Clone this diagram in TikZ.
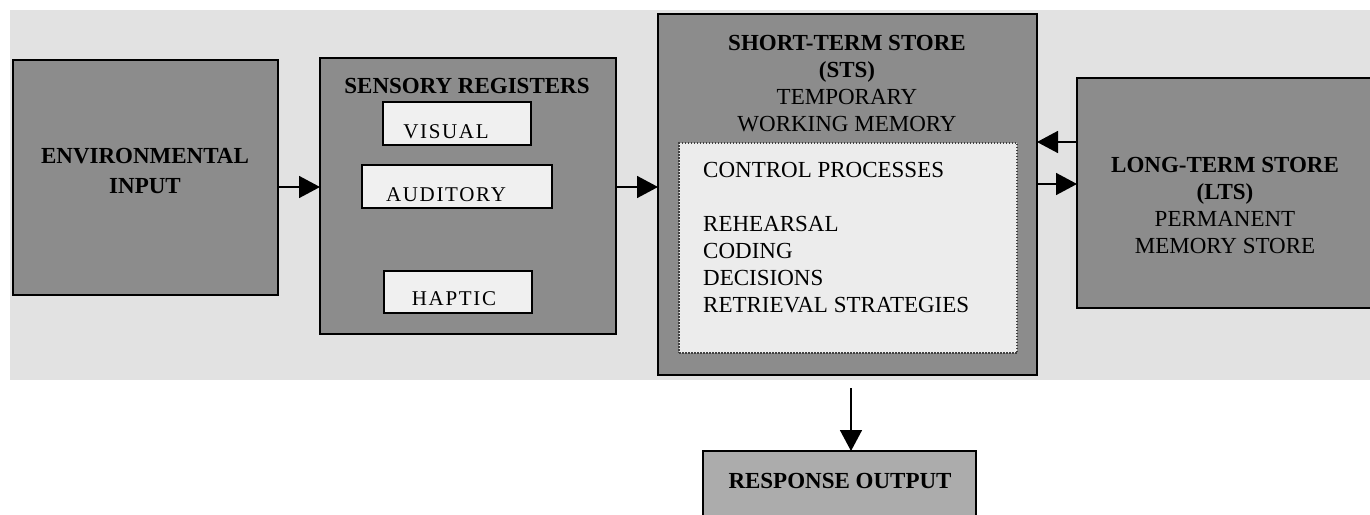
\documentclass[tikz,border=0pt]{standalone}
\usepackage{fontspec}
\setmainfont{Liberation Serif}
\newfontfamily\tracked[LetterSpace=8]{Liberation Serif}
\usetikzlibrary{arrows.meta}

\definecolor{bggray}{RGB}{226,226,226}
\definecolor{boxgray}{RGB}{140,140,140}
\definecolor{chipwhite}{RGB}{240,240,240}
\definecolor{ctrlfill}{RGB}{236,236,236}
\definecolor{respgray}{RGB}{172,172,172}

\begin{document}
\begin{tikzpicture}[x=1pt,y=-1pt,
  panel/.style={draw=black, line width=1.6pt, fill=boxgray, inner sep=0pt, outer sep=0pt},
  chip/.style={draw=black, line width=1.6pt, fill=chipwhite, inner sep=0pt, outer sep=0pt},
  ctrlbox/.style={draw=black!75, line width=1.5pt, dash pattern=on 1.5pt off 1.5pt,
                  fill=ctrlfill, inner sep=0pt, outer sep=0pt},
  respbox/.style={draw=black, line width=1.6pt, fill=respgray, inner sep=0pt, outer sep=0pt},
  label/.style={inner sep=0pt, align=center, text=black, font=\fontsize{23}{27}\selectfont},
  boldlabel/.style={label, font=\bfseries\fontsize{23}{27}\selectfont},
  chiplabel/.style={inner sep=0pt, anchor=base, font=\tracked\fontsize{21}{25}\selectfont},
  arr/.style={line width=1.6pt, -{Triangle[length=21pt,width=22pt]}}
]
\clip (0,0) rectangle (1370,514);
\fill[white] (0,0) rectangle (1370,514);
% light backdrop behind the memory stages
\fill[bggray] (10,10) rectangle (1375,380);

% environmental input
\node[panel, minimum width=265pt, minimum height=235pt] (env) at (145.5,177.5) {};
\node[boldlabel, anchor=north, font=\bfseries\fontsize{23}{30}\selectfont] (envtxt) at (145,148)
  {ENVIRONMENTAL\\INPUT};

% sensory registers
\node[panel, minimum width=296pt, minimum height=276pt] (sens) at (468,196) {};
\node[boldlabel, anchor=base] (senstxt) at (467,93) {SENSORY REGISTERS};
\node[chip, minimum width=148pt, minimum height=43pt] (vis) at (457,123.5) {};
\node[chip, minimum width=190pt, minimum height=43pt] (aud) at (457,186.5) {};
\node[chip, minimum width=148pt, minimum height=42pt] (hap) at (458,292) {};
\node[chiplabel] (vistxt) at (446,138) {VISUAL};
\node[chiplabel] (audtxt) at (446,201) {AUDITORY};
\node[chiplabel] (haptxt) at (454,305) {HAPTIC};

% short-term store
\node[panel, minimum width=379pt, minimum height=361pt] (sts) at (847.5,194.5) {};
\node[label, anchor=north] (ststxt) at (847,35)
  {\textbf{SHORT-TERM STORE}\\\textbf{(STS)}\\TEMPORARY\\WORKING MEMORY};
\node[ctrlbox, minimum width=338pt, minimum height=210pt] (ctrl) at (848,248) {};
\node[label, anchor=north west, align=left] (ctrltxt) at (703,162)
  {CONTROL PROCESSES\\[27pt]REHEARSAL\\CODING\\DECISIONS\\RETRIEVAL STRATEGIES};

% long-term store
\node[panel, minimum width=296pt, minimum height=230pt] (lts) at (1225,193) {};
\node[label, anchor=north] (ltstxt) at (1225,157)
  {\textbf{LONG-TERM STORE}\\\textbf{(LTS)}\\PERMANENT\\MEMORY STORE};

% response output
\node[respbox, minimum width=273pt, minimum height=79pt] (resp) at (839.5,490.5) {};
\node[boldlabel, anchor=base] (resptxt) at (840,488) {RESPONSE OUTPUT};

% information flow
\draw[arr] ([yshift=-9.5pt]env.east) coordinate (e1) -- (e1 -| sens.west);
\draw[arr] ([yshift=9pt]sens.east) coordinate (s1) -- (s1 -| sts.west);
\draw[arr] ([yshift=51pt]lts.west) coordinate (l1) -- (l1 -| sts.east);
\draw[arr] ([yshift=10.5pt]sts.east) coordinate (t1) -- (t1 -| lts.west);
\coordinate (down) at (851,388);
\draw[arr] (down) -- (down |- resp.north);
\end{tikzpicture}
\end{document}
